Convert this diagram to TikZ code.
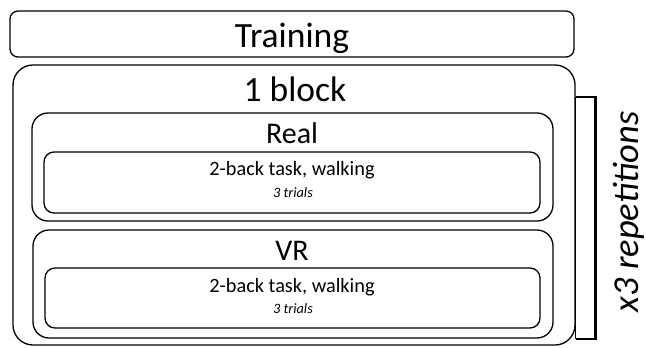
\documentclass[tikz,border=0pt]{standalone}
\usepackage{fontspec}
\setmainfont{Carlito}
\begin{document}
\begin{tikzpicture}[x=1bp,y=-1bp,
    box/.style={draw,line width=1.3bp,rounded corners=#1,inner sep=0pt},
    box/.default=10bp,
    big/.style={font=\fontsize{35.5bp}{40bp}\selectfont},
    mid/.style={font=\fontsize{30bp}{34bp}\selectfont},
    task/.style={font=\fontsize{20.3bp}{23bp}\selectfont},
    trials/.style={font=\fontsize{14.3bp}{17bp}\selectfont\itshape}]
    \useasboundingbox (0,0) rectangle (646,347);
    % training and the repeated block
    \node [box=8bp,minimum width=564bp,minimum height=46bp] (train) at (292,34) {};
    \node [big,anchor=base] (trainlbl) at (292,47) {Training};
    \node [box=20bp,minimum width=562bp,minimum height=280bp] (block) at (294,205) {};
    \node [big,anchor=base] (blocklbl) at (295,101) {1 block};
    % real condition
    \node [box=16bp,minimum width=521bp,minimum height=108bp] (real) at (292.5,167) {};
    \node [mid,anchor=base] (reallbl) at (292,143) {Real};
    \node [box,minimum width=496bp,minimum height=61bp] (realtask) at (292,182.5) {};
    \node [task,anchor=base] (realtasklbl) at (292,175) {2-back task, walking};
    \node [trials,anchor=base] (realtrials) at (293,197) {3 trials};
    % vr condition
    \node [box=16bp,minimum width=520bp,minimum height=108bp] (vr) at (293,284) {};
    \node [mid,anchor=base] (vrlbl) at (292,260) {VR};
    \node [box,minimum width=495bp,minimum height=60bp] (vrtask) at (292.5,298) {};
    \node [task,anchor=base] (vrtasklbl) at (292,292) {2-back task, walking};
    \node [trials,anchor=base] (vrtrials) at (293,313) {3 trials};
    % bracket for the repetitions
    \coordinate (brtop) at (block.east |- 0,97);
    \coordinate (brbot) at (block.east |- 0,339);
    \draw [line width=2.4bp] (brtop) -- ++(20,0) |- (brbot);
    \draw [line width=1.3bp] (brtop) -- (brbot);
    \node [font=\fontsize{36.5bp}{40bp}\selectfont\itshape,rotate=90,anchor=base] (rep) at (638,212) {x3 repetitions};
\end{tikzpicture}
\end{document}
